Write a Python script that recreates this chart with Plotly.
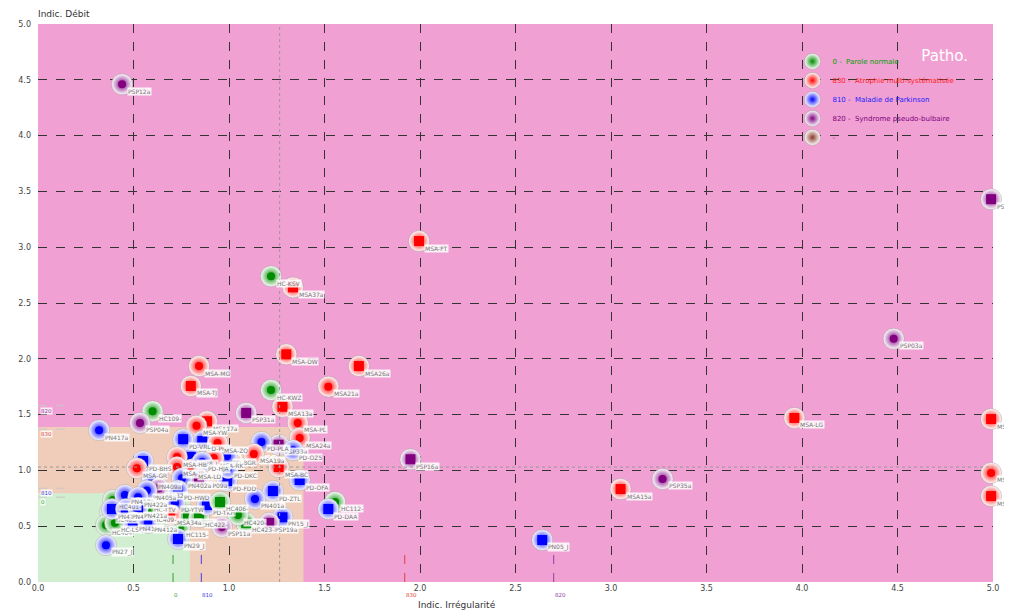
import plotly.graph_objects as go

# ---------------- data ----------------
names = ["HC401-", "HC403-", "HC404-", "HC-LSQ", "HC-TTV", "HC409-", "HC115-", "HC-TTL", "HC422-",
         "PSP12a", "PSP08a", "MSA-FT", "HC-KSV", "MSA37a", "PSP03a", "MSA-DW", "MSA26a", "MSA-MG",
         "MSA21a", "MSA-TJ", "HC-KWZ", "MSA-LG", "MSA-MA", "HC109-", "PSP31a", "MSA13a", "PSP04a",
         "PN417a", "MSA17a", "MSA-YW", "MSA-PL", "MSA24a", "PSP33a", "PD-PLA", "PD-OZ5", "MSA19a",
         "MSA-BC", "PD-OFA", "PD-ZTL", "PN401a", "HC112-", "PD-DAA", "PN15_J", "PSP19a", "HC423-",
         "HC420-", "PSP11a", "PD-TKH", "HC406-", "PD-FDD", "PD-DKC", "PD-BGR", "PD-PKM", "PD-VRL",
         "MSA-ZQ", "PN28_J", "MSA-HB", "MSA-JR", "MSA-LD", "MSA-RK", "PD-HJA", "PSP09a", "PN402a",
         "PD-BHS", "MSA-GR", "PN409a", "PSP32a", "PN405a", "PD-HWD", "PN410a", "PN422a", "PN413a",
         "PN418a", "PN421a", "PD-YTW", "MSA34a", "PN416a", "PN412a", "PN27_J", "PN29_J", "PN05_J",
         "PSP16a", "MSA15a", "PSP35a", "MSA-BT", "MSA20a"]
groups = ["0", "0", "0", "0", "0", "0", "0", "0", "0",
          "820", "820", "830", "0", "830", "820", "830", "830", "830",
          "830", "830", "0", "830", "830", "0", "820", "830", "820",
          "810", "830", "830", "830", "830", "820", "810", "810", "830",
          "830", "810", "810", "810", "0", "810", "810", "820", "0",
          "0", "820", "810", "0", "810", "810", "810", "810", "810",
          "830", "810", "830", "830", "830", "830", "810", "820", "810",
          "810", "830", "810", "820", "810", "810", "810", "810", "810",
          "810", "810", "810", "830", "810", "810", "810", "810", "810",
          "820", "830", "820", "830", "830"]
shapes_ = ["c", "c", "c", "c", "s", "c", "c", "s", "s",
           "c", "s", "s", "c", "s", "c", "s", "s", "c",
           "c", "s", "c", "s", "s", "c", "s", "s", "c",
           "c", "s", "c", "c", "c", "s", "c", "c", "c",
           "s", "s", "s", "c", "c", "s", "s", "s", "s",
           "c", "c", "s", "s", "s", "c", "c", "s", "s",
           "c", "s", "c", "c", "c", "c", "c", "s", "c",
           "s", "c", "c", "c", "c", "s", "c", "c", "s",
           "s", "s", "c", "c", "s", "c", "c", "s", "s",
           "s", "s", "c", "c", "s"]
x_vals = [0.393, 0.377, 0.356, 0.403, 0.576, 0.576, 0.743, 0.785, 0.843,
          0.44, 4.99, 1.995, 1.22, 1.335, 4.48, 1.30, 1.68, 0.843,
          1.52, 0.80, 1.22, 3.96, 4.99, 0.60, 1.09, 1.28, 0.534,
          0.32, 0.885, 0.83, 1.36, 1.37, 1.26, 1.17, 1.335, 1.13,
          1.26, 1.37, 1.23, 1.136, 1.555, 1.52, 1.28, 1.21, 1.09,
          1.047, 0.963, 0.885, 0.953, 0.99, 0.995, 0.99, 0.86, 0.76,
          0.94, 0.80, 0.728, 0.728, 0.806, 0.92, 0.86, 0.843, 0.754,
          0.55, 0.518, 0.597, 0.633, 0.57, 0.733, 0.455, 0.524, 0.387,
          0.46, 0.524, 0.717, 0.696, 0.497, 0.576, 0.356, 0.733, 2.64,
          1.95, 3.05, 3.27, 4.99, 4.99]
y_vals = [0.735, 0.627, 0.51, 0.53, 0.708, 0.62, 0.484, 0.60, 0.58,
          4.46, 3.43, 3.055, 2.74, 2.64, 2.18, 2.04, 1.935, 1.935,
          1.75, 1.756, 1.72, 1.47, 1.46, 1.53, 1.515, 1.57, 1.425,
          1.36, 1.44, 1.40, 1.425, 1.29, 1.23, 1.255, 1.18, 1.147,
          1.03, 0.914, 0.815, 0.744, 0.717, 0.654, 0.58, 0.53, 0.53,
          0.60, 0.493, 0.69, 0.717, 0.905, 1.02, 1.13, 1.263, 1.28,
          1.245, 1.12, 1.12, 1.03, 1.01, 1.11, 1.075, 0.93, 0.93,
          1.084, 1.02, 0.92, 0.84, 0.82, 0.82, 0.78, 0.76, 0.654,
          0.654, 0.663, 0.708, 0.60, 0.538, 0.53, 0.33, 0.385, 0.376,
          1.10, 0.833, 0.923, 0.977, 0.77]

# groups / legend
legend_codes = ["0", "830", "810", "820", "-"]
legend_labels = ["0 -\u00a0\u00a0Parole normale", "830 -\u00a0\u00a0Atrophie multi-systématisée",
                 "810 -\u00a0\u00a0Maladie de Parkinson", "820 -\u00a0\u00a0Syndrome pseudo-bulbaire", "-"]

# group mean markers on the axes
mean_codes = ["0", "810", "830", "820"]
mean_x = [0.707, 0.855, 1.92, 2.70]
mean_y = [0.76, 0.84, 1.37, 1.58]
overall_mean_x = 1.265
overall_mean_y = 1.03

# zones
zone_names = ["Patho.", "Altéré", ""]
zone_limits = [5.0, 1.39, 0.795]
zone_colors = ["#F0A0D2", "#F0CDBA", "#D2EED0"]

# ---------------- styles ----------------
core = {"0": "#008C00", "830": "#FF0000", "810": "#0000FF", "820": "#800080", "-": "#8B3A2A"}
text_col = {"0": "#00A000", "830": "#FF2020", "810": "#2020FF", "820": "#800080", "-": "#555555"}
axis_text = {"0": "#30A030", "810": "#4040E0", "830": "#E04040", "820": "#9040A0"}
FONT = "DejaVu Sans"

fig = go.Figure()

for i in range(len(names)):
    c = core[groups[i]]
    fig.add_trace(go.Scatter(
        x=[x_vals[i]], y=[y_vals[i]], mode="markers",
        marker=dict(size=21, color="white", gradient=dict(type="radial", color=c),
                    line=dict(color="rgba(150,150,150,0.45)", width=1)),
        showlegend=False, hoverinfo="skip", cliponaxis=False))
    sq = shapes_[i] == "s"
    fig.add_trace(go.Scatter(
        x=[x_vals[i]], y=[y_vals[i]], mode="markers",
        marker=dict(size=10 if sq else 8, symbol="square" if sq else "circle", color=c, line=dict(width=0)),
        showlegend=False, hoverinfo="text", text=[names[i]], cliponaxis=False))

# legend entries
for code, lab in zip(legend_codes, legend_labels):
    fig.add_trace(go.Scatter(
        x=[None], y=[None], mode="markers", name=f"<span style='color:{text_col[code]}'>{lab}</span>",
        marker=dict(size=16, color="white", gradient=dict(type="radial", color=core[code]),
                    line=dict(color="rgba(150,150,150,0.45)", width=1))))

# point labels
annotations = []
for i in range(len(names)):
    annotations.append(dict(x=x_vals[i], y=y_vals[i], xref="x", yref="y", text=names[i], showarrow=False,
                            xanchor="left", yanchor="middle", xshift=5, yshift=-7,
                            font=dict(family=FONT, size=6, color="#777777"),
                            bgcolor="rgba(255,255,255,0.85)", borderpad=0))

shapes = []
for zname, lim, zc in zip(zone_names, zone_limits, zone_colors):
    shp = dict(type="rect", xref="x", yref="y", x0=0, y0=0, x1=lim, y1=lim, fillcolor=zc,
               line=dict(width=0), layer="below")
    if zname:
        shp["label"] = dict(text=zname, textposition="top right", padding=22,
                            font=dict(family=FONT, size=15, color="white"))
    shapes.append(shp)

# overall means (gray dotted)
shapes.append(dict(type="line", xref="x", yref="paper", x0=overall_mean_x, x1=overall_mean_x, y0=0, y1=1,
                   line=dict(color="#999999", width=1, dash="dot"), layer="above"))
shapes.append(dict(type="line", xref="paper", yref="y", x0=0, x1=1, y0=overall_mean_y, y1=overall_mean_y,
                   line=dict(color="#999999", width=1, dash="dot"), layer="above"))

# group means
for code, mx, my in zip(mean_codes, mean_x, mean_y):
    shapes.append(dict(type="line", xref="x", yref="y", x0=mx, x1=mx, y0=0, y1=0.3,
                       line=dict(color=axis_text[code], width=1, dash="dash")))
    annotations.append(dict(x=mx, y=0, xref="x", yref="y", text=code, showarrow=False,
                            xanchor="left", yanchor="top", yshift=-8, xshift=-1,
                            font=dict(family=FONT, size=5.5, color=axis_text[code])))
    shapes.append(dict(type="line", xref="x", yref="y", x0=0, x1=0.18, y0=my, y1=my,
                       line=dict(color="#C8C8C8", width=1, dash="dash")))
    annotations.append(dict(x=0, y=my, xref="x", yref="y", text=code, showarrow=False,
                            xanchor="left", yanchor="top", yshift=-1, xshift=2,
                            font=dict(family=FONT, size=5.5, color=axis_text[code]),
                            bgcolor="rgba(255,255,255,0.8)", borderpad=0))

# axis titles
annotations.append(dict(x=0, y=1, xref="paper", yref="paper", text="Indic. Débit", showarrow=False,
                        xanchor="left", yanchor="bottom", xshift=-2, yshift=3,
                        font=dict(family=FONT, size=9, color="#333333")))
annotations.append(dict(x=0.439, y=0, xref="paper", yref="paper", text="Indic. Irrégularité", showarrow=False,
                        xanchor="center", yanchor="top", yshift=-16,
                        font=dict(family=FONT, size=9, color="#333333")))

axis_common = dict(range=[0, 5], tick0=0, dtick=0.5, tickformat=".1f", showgrid=True,
                   gridcolor="#333333", griddash="dash", gridwidth=1, zeroline=False, showline=False,
                   ticks="", tickfont=dict(family=FONT, size=8, color="#444444"), fixedrange=True,
                   automargin=False)

fig.update_layout(
    width=1004, height=602,
    margin=dict(l=30, r=19, t=16, b=28, autoexpand=False),
    paper_bgcolor="white", plot_bgcolor="white",
    xaxis=dict(**axis_common),
    yaxis=dict(**axis_common, ticklabelstandoff=6),
    shapes=shapes, annotations=annotations,
    showlegend=True,
    legend=dict(x=0.79, y=0.959, xanchor="left", yanchor="top", bgcolor="rgba(0,0,0,0)",
                font=dict(family=FONT, size=7), tracegroupgap=0, itemsizing="trace"),
)

fig.write_html("out.html")
